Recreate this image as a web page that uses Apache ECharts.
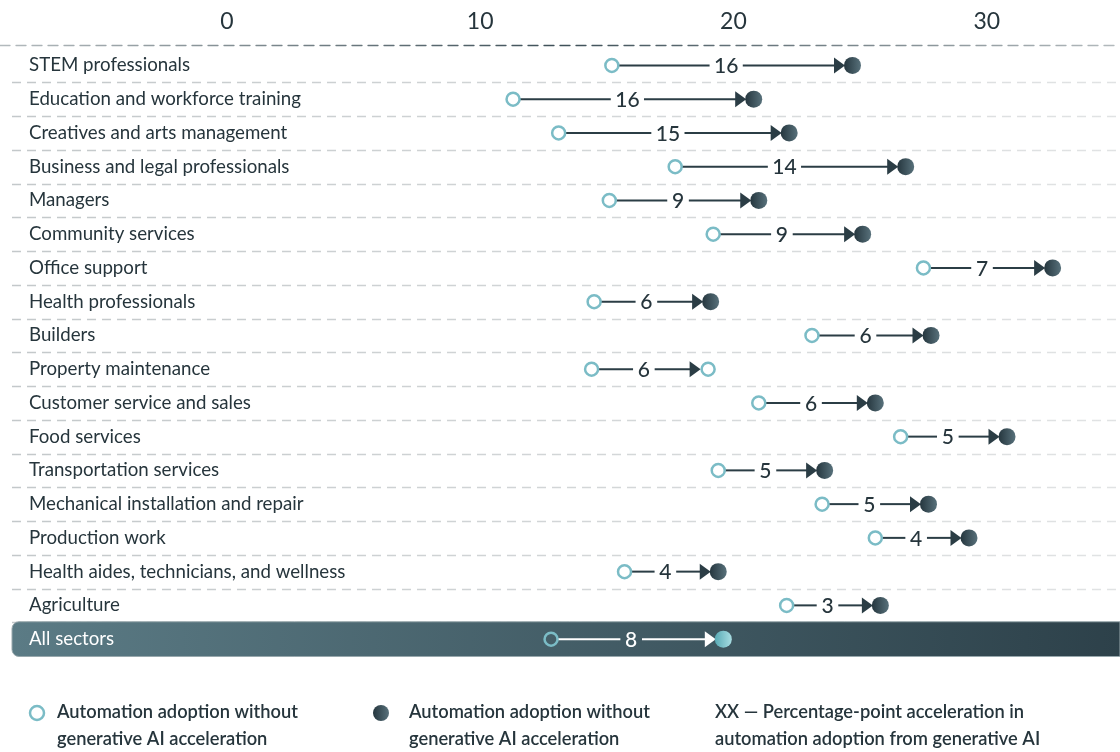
<!DOCTYPE html>
<html>
<head>
<meta charset="utf-8">
<title>Automation adoption by occupation</title>
<script src="https://cdn.jsdelivr.net/npm/echarts@6/dist/echarts.min.js"></script>
<style>
  html, body { margin: 0; padding: 0; background: #ffffff; }
  #chart { width: 1120px; height: 752px; }
</style>
</head>
<body>
<div id="chart"></div>
<script>
// Occupation groups, top to bottom; the last row is the overall figure
const categories = [
  'STEM professionals',
  'Education and workforce training',
  'Creatives and arts management',
  'Business and legal professionals',
  'Managers',
  'Community services',
  'Office support',
  'Health professionals',
  'Builders',
  'Property maintenance',
  'Customer service and sales',
  'Food services',
  'Transportation services',
  'Mechanical installation and repair',
  'Production work',
  'Health aides, technicians, and wellness',
  'Agriculture',
  'All sectors'
];

// Position of the hollow marker (without generative AI acceleration)
const withoutGenAI = [15.2, 11.3, 13.1, 17.7, 15.1, 19.2, 27.5, 14.5, 23.1, 14.4, 21.0, 26.6, 19.4, 23.5, 25.6, 15.7, 22.1, 12.8];
// Position of the solid marker (with generative AI acceleration)
const withGenAI = [24.7, 20.8, 22.2, 26.8, 21.0, 25.1, 32.6, 19.1, 27.8, 19.0, 25.6, 30.8, 23.6, 27.7, 29.3, 19.4, 25.8, 19.6];
// Percentage-point acceleration printed on each connector
const acceleration = [16, 16, 15, 14, 9, 9, 7, 6, 6, 6, 6, 5, 5, 5, 4, 4, 3, 8];

const xTickValues = [0, 10, 20, 30];
const hollowEndRows = ['Property maintenance'];
const totalRow = 'All sectors';

const legendItems = [
  'Automation adoption without\ngenerative AI acceleration',
  'Automation adoption without\ngenerative AI acceleration',
  'XX \u2014 Percentage-point acceleration in\nautomation adoption from generative AI'
];

const FONT = 'Lato, "Noto Sans", sans-serif';
const INK = '#26353c';
const TEAL = '#7bbcc6';

const seriesData = categories.map((c, i) => [withoutGenAI[i], withGenAI[i], i, acceleration[i]]);

function darkDot() {
  return new echarts.graphic.LinearGradient(0, 0, 1, 0, [
    { offset: 0, color: '#25363e' },
    { offset: 1, color: '#58717b' }
  ]);
}
function tealDot() {
  return new echarts.graphic.LinearGradient(0, 0, 1, 0, [
    { offset: 0, color: '#58aab5' },
    { offset: 1, color: '#a8dde2' }
  ]);
}

function renderRow(params, api) {
  const i = params.dataIndex;
  const cs = params.coordSys;
  const rowIdx = api.value(2);
  const p0 = api.coord([api.value(0), rowIdx]);
  const p1 = api.coord([api.value(1), rowIdx]);
  const band = api.size([0, 1])[1];
  const cy = p0[1];
  const isTotal = categories[i] === totalRow;
  const hollowEnd = hollowEndRows.indexOf(categories[i]) >= 0;
  const lineColor = isTotal ? '#ffffff' : '#2b3d45';
  const children = [];

  if (isTotal) {
    children.push({
      type: 'rect',
      shape: { x: cs.x + 12, y: cy - band / 2 - 0.5, width: cs.width - 12, height: band + 1, r: [7, 0, 0, 7] },
      style: {
        fill: new echarts.graphic.LinearGradient(0, 0, 1, 0, [
          { offset: 0, color: '#5b7b85' },
          { offset: 1, color: '#2d414a' }
        ]),
        stroke: '#98a8ad',
        lineWidth: 1
      }
    });
  } else {
    const ySep = Math.round(cy + band / 2) + 0.5;
    children.push({
      type: 'line',
      shape: { x1: cs.x + 12, y1: ySep, x2: cs.x + cs.width, y2: ySep },
      style: {
        stroke: new echarts.graphic.LinearGradient(cs.x, 0, cs.x + cs.width, 0, [
          { offset: 0, color: '#c3c8ca' },
          { offset: 1, color: '#e1e3e4' }
        ], true),
        lineWidth: 1.3,
        lineDash: [9, 6]
      }
    });
  }

  const rOpen = 6.5;
  const rEnd = 8.5;
  const tip = p1[0] - rEnd + 1;
  const base = tip - 11;
  const startX = p0[0] + rOpen;
  const mid = (startX + base) / 2;
  const label = String(api.value(3));
  const halfText = label.length * 5.8 + 5;

  children.push({
    type: 'line',
    shape: { x1: startX, y1: cy, x2: mid - halfText, y2: cy },
    style: { stroke: lineColor, lineWidth: 2 }
  });
  children.push({
    type: 'line',
    shape: { x1: mid + halfText, y1: cy, x2: base + 1, y2: cy },
    style: { stroke: lineColor, lineWidth: 2 }
  });
  children.push({
    type: 'polygon',
    shape: { points: [[tip, cy], [base, cy - 8], [base, cy + 8]] },
    style: { fill: lineColor }
  });
  children.push({
    type: 'text',
    style: {
      text: label, x: mid, y: cy + 1, align: 'center', verticalAlign: 'middle',
      fill: isTotal ? '#ffffff' : INK, fontSize: 21, fontWeight: 500, fontFamily: FONT
    }
  });
  children.push({
    type: 'circle',
    shape: { cx: p0[0], cy: cy, r: rOpen },
    style: { fill: isTotal ? 'rgba(0,0,0,0)' : '#ffffff', stroke: TEAL, lineWidth: 2.5 }
  });
  if (hollowEnd) {
    children.push({
      type: 'circle',
      shape: { cx: p1[0], cy: cy, r: rOpen },
      style: { fill: '#ffffff', stroke: TEAL, lineWidth: 2.5 }
    });
  } else {
    children.push({
      type: 'circle',
      shape: { cx: p1[0], cy: cy, r: rEnd },
      style: { fill: isTotal ? tealDot() : darkDot() }
    });
  }
  return { type: 'group', children: children };
}

const chart = echarts.init(document.getElementById('chart'), null, { renderer: 'canvas' });

const legendTextStyle = { fontSize: 18.3, fontWeight: 600, fontFamily: FONT, fill: INK, lineHeight: 27 };

chart.setOption({
  backgroundColor: '#ffffff',
  animation: false,
  grid: { left: 0, right: 0, top: 48.5, height: 607.5, containLabel: false },
  xAxis: {
    type: 'value',
    position: 'top',
    min: -8.954,
    max: 35.26,
    offset: 3.5,
    axisLine: {
      show: true,
      lineStyle: {
        type: [10, 6],
        width: 1.3,
        color: new echarts.graphic.LinearGradient(0, 0, 1, 0, [
          { offset: 0, color: '#b4bbbe' },
          { offset: 0.5, color: '#3e5058' },
          { offset: 1, color: '#b4bbbe' }
        ])
      }
    },
    axisTick: { show: false },
    splitLine: { show: false },
    axisLabel: {
      customValues: xTickValues,
      margin: 12,
      fontSize: 23,
      fontFamily: FONT,
      color: INK
    }
  },
  yAxis: {
    type: 'category',
    inverse: true,
    data: categories,
    z: 10,
    axisLine: { show: false },
    axisTick: { show: false },
    splitLine: { show: false },
    axisLabel: {
      inside: true,
      margin: 29,
      fontSize: 18.7,
      fontFamily: FONT,
      color: (value) => value === totalRow ? '#ffffff' : INK
    }
  },
  series: [{
    type: 'custom',
    name: 'Automation adoption',
    renderItem: renderRow,
    encode: { x: [0, 1], y: 2 },
    data: seriesData,
    clip: false
  }],
  graphic: [
    { type: 'circle', shape: { cx: 37, cy: 713, r: 7 }, style: { fill: '#ffffff', stroke: TEAL, lineWidth: 2.5 } },
    { type: 'text', left: 57, top: 699, style: Object.assign({ text: legendItems[0] }, legendTextStyle) },
    { type: 'circle', shape: { cx: 381, cy: 713, r: 8 }, style: { fill: darkDot() } },
    { type: 'text', left: 409, top: 699, style: Object.assign({ text: legendItems[1] }, legendTextStyle) },
    { type: 'text', left: 715, top: 699, style: Object.assign({ text: legendItems[2] }, legendTextStyle) }
  ]
});
</script>
</body>
</html>
